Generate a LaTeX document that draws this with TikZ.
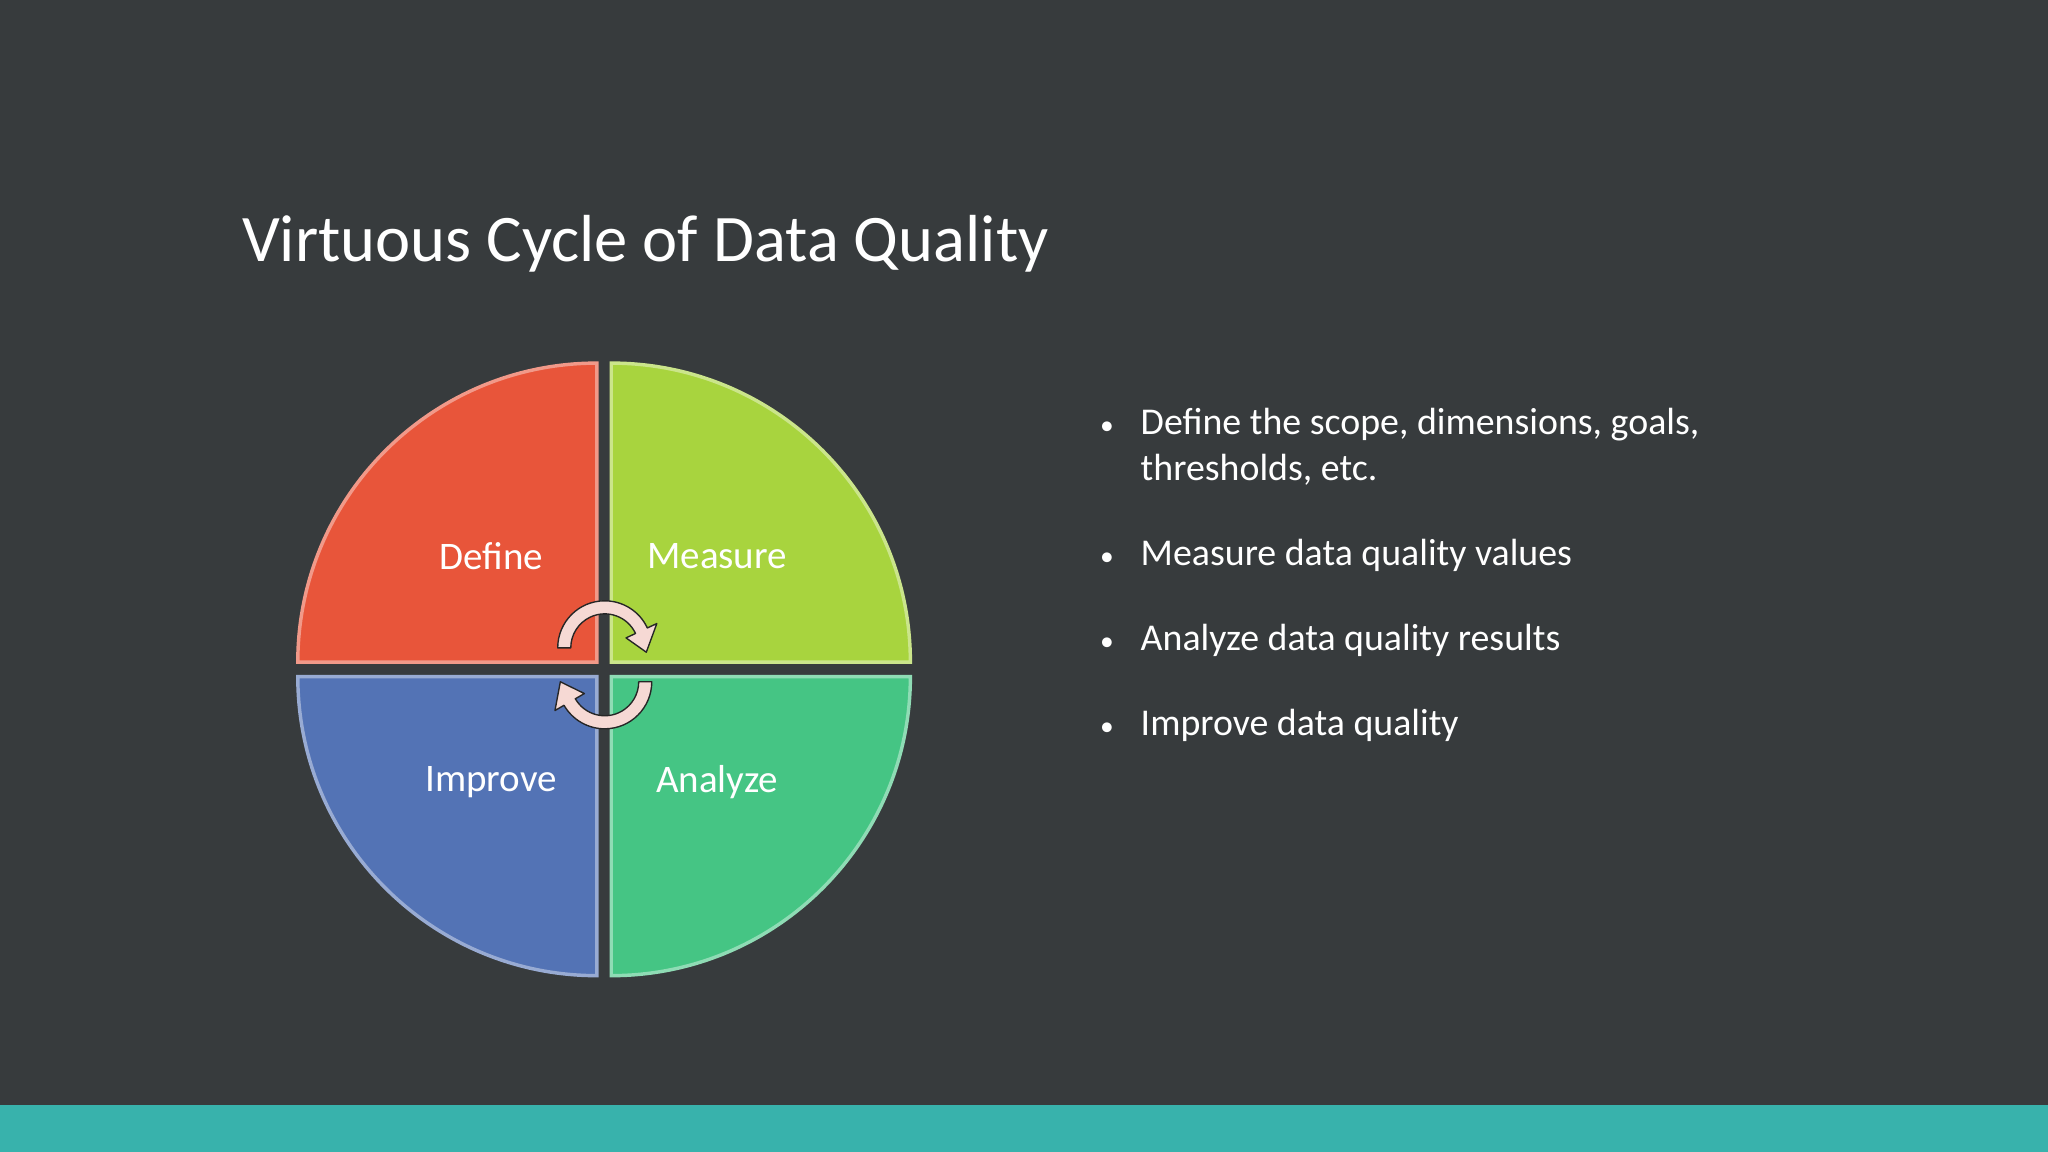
\documentclass[tikz,border=0pt]{standalone}
\usepackage{fontspec}
\setmainfont{Carlito}
\definecolor{bg}{HTML}{373B3D}
\definecolor{teal}{HTML}{38B2AC}
\definecolor{cdef}{HTML}{E8553A}
\definecolor{cmea}{HTML}{A8D43E}
\definecolor{cimp}{HTML}{5373B5}
\definecolor{cana}{HTML}{45C584}
\definecolor{arr}{HTML}{F6D9D4}
\begin{document}
\begin{tikzpicture}[x=0.02cm,y=0.02cm,
  lbl/.style={text=white,font=\fontsize{17}{20}\selectfont},
  bul/.style={text=white,font=\fontsize{16.5}{20}\selectfont,anchor=base west,inner sep=0},
  cyc/.style={fill=arr,draw=black!85,line width=0.6pt,line join=round}]
\useasboundingbox (0,0) rectangle (1568,882);
\fill[bg] (0,0) rectangle (1568,882);
\fill[teal] (0,0) rectangle (1568,36);
\node[text=white,font=\fontsize{29}{34}\selectfont,anchor=base west,inner sep=0] (title) at (185,682) {Virtuous Cycle of Data Quality};
% quadrants
\fill[cdef,draw=cdef!60!white,line width=1.5pt] (457,375) -- (228,375) arc[start angle=180,end angle=90,radius=229] -- cycle;
\fill[cmea,draw=cmea!60!white,line width=1.5pt] (468,375) -- (468,604) arc[start angle=90,end angle=0,radius=229] -- cycle;
\fill[cimp,draw=cimp!60!white,line width=1.5pt] (457,364) -- (228,364) arc[start angle=180,end angle=270,radius=229] -- cycle;
\fill[cana,draw=cana!60!white,line width=1.5pt] (468,364) -- (697,364) arc[start angle=0,end angle=-90,radius=229] -- cycle;
\node[lbl] (define) at (376,456) {Define};
\node[lbl] (measure) at (549,456) {Measure};
\node[lbl] (improve) at (376,283) {Improve};
\node[lbl] (analyze) at (549,283) {Analyze};
% cycle arrows
\coordinate (ct) at (463,386);
\coordinate (cb) at (463,360);
\draw[cyc] ([shift={(ct)}]180:36) arc[start angle=180,end angle=25,radius=36] -- ([shift={(ct)}]25:44) -- ([shift={(ct)}]-6:32) -- ([shift={(ct)}]25:18) -- ([shift={(ct)}]25:26) arc[start angle=25,end angle=180,radius=26] -- cycle;
\draw[cyc] ([shift={(cb)}]0:36) arc[start angle=0,end angle=-150,radius=36] -- ([shift={(cb)}]-150:44) -- ([shift={(cb)}]-180:34) -- ([shift={(cb)}]-150:18) -- ([shift={(cb)}]-150:26) arc[start angle=-150,end angle=0,radius=26] -- cycle;
% bullets
\foreach \y/\t/\n in {549/{Define the scope, dimensions, goals,}/b1, 514/{thresholds, etc.}/b2, 449/{Measure data quality values}/b3, 384/{Analyze data quality results}/b4, 319/{Improve data quality}/b5}{
  \node[bul] (\n) at (873,\y) {\t};
}
\foreach \y/\n in {549/d1,449/d3,384/d4,319/d5}{
  \node[bul,font=\fontsize{12}{14}\selectfont] (\n) at (842,\y) {•};
}
\end{tikzpicture}
\end{document}
